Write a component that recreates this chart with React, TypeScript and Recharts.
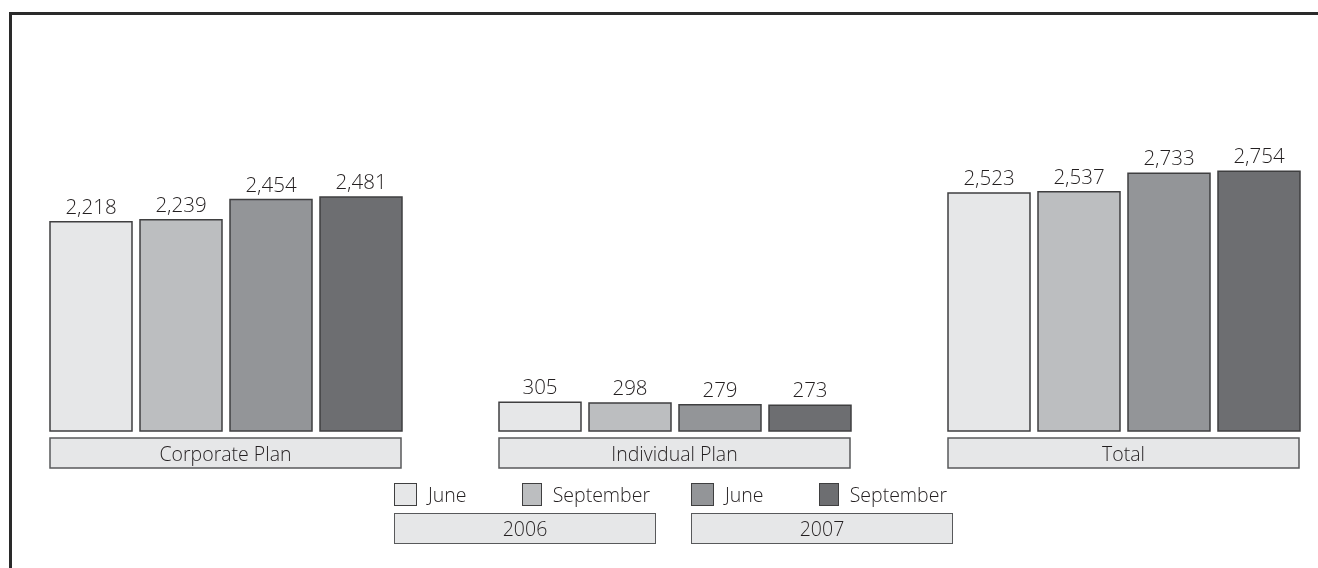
import React from 'react';
import { BarChart, Bar, XAxis, YAxis, LabelList, Legend } from 'recharts';

const categories = ['Corporate Plan', 'Individual Plan', 'Total'];
const june2006 = [2218, 305, 2523];
const september2006 = [2239, 298, 2537];
const june2007 = [2454, 279, 2733];
const september2007 = [2481, 273, 2754];

const seriesKeys = ['june2006', 'september2006', 'june2007', 'september2007'];
const seriesMonths = ['June', 'September', 'June', 'September'];
const years = ['2006', '2007'];
const valueDomain = [0, 3000];

const colors = ['#e6e7e8', '#bcbec0', '#939598', '#6d6e71'];
const FONT = '"Open Sans", "Noto Sans", sans-serif';
const WEIGHT = 300;
const TEXT = '#231f20';
const EDGE = '#3f3f40';
const BOX_EDGE = '#58595b';

const data = categories.map((category, i) => ({
  category,
  june2006: june2006[i],
  september2006: september2006[i],
  june2007: june2007[i],
  september2007: september2007[i],
}));

const fmt = (v: any) => Number(v).toLocaleString('en-US');

const GROUP_W = 351;

const CategoryTick = (props: any) => {
  const { x, y, payload } = props;
  return (
    <g>
      <rect x={x - GROUP_W / 2} y={y + 7} width={GROUP_W} height={30} fill="#e6e7e8" stroke={BOX_EDGE} strokeWidth={1.5} />
      <text x={x} y={y + 22} textAnchor="middle" dominantBaseline="central" fontSize={19.5} fontWeight={WEIGHT} fill={TEXT} fontFamily={FONT}>
        {payload.value}
      </text>
    </g>
  );
};

const renderLegend = () => (
  <div style={{ width: 562, height: 62, display: 'flex', gap: 35, fontSize: 19.5, fontWeight: WEIGHT, color: TEXT, fontFamily: FONT, lineHeight: 1 }}>
    {years.map((yr, yi) => (
      <div key={yr} style={{ width: 262 }}>
        <div style={{ display: 'flex', height: 23 }}>
          {[0, 1].map((j) => {
            const s = yi * 2 + j;
            return (
              <div key={j} style={{ width: 128, display: 'flex', alignItems: 'center' }}>
                <span style={{ display: 'inline-block', width: 23, height: 23, boxSizing: 'border-box', background: colors[s], border: `1.5px solid ${EDGE}` }} />
                <span style={{ marginLeft: 11 }}>{seriesMonths[s]}</span>
              </div>
            );
          })}
        </div>
        <div style={{ marginTop: 7, height: 31, boxSizing: 'border-box', background: '#e6e7e8', border: `1.5px solid ${BOX_EDGE}`, display: 'flex', alignItems: 'center', justifyContent: 'center' }}>
          {yr}
        </div>
      </div>
    ))}
  </div>
);

export default function App() {
  return (
    <>
      <style>{`html, body { overflow: hidden; }`}</style>
      <div style={{ position: 'fixed', left: 0, top: 0, width: 1318, height: 568, overflow: 'hidden', fontFamily: FONT }}>
        <BarChart
          width={1348}
          height={568}
          data={data}
          margin={{ top: 148, right: 0, left: 1, bottom: 97 }}
          barCategoryGap={49}
          barGap={8}
        >
          <XAxis dataKey="category" axisLine={false} tickLine={false} tickSize={0} tickMargin={0} height={40} interval={0} tick={<CategoryTick />} />
          <YAxis hide domain={valueDomain} />
          {seriesKeys.map((k, i) => (
            <Bar key={k} dataKey={k} fill={colors[i]} stroke={EDGE} strokeWidth={1.5} isAnimationActive={false}>
              <LabelList dataKey={k} position="top" offset={8} formatter={fmt} fill={TEXT} fontSize={20.5} fontWeight={WEIGHT} fontFamily={FONT} />
            </Bar>
          ))}
          <Legend layout="vertical" align="center" verticalAlign="middle" wrapperStyle={{ top: 483, left: 394, width: 562, height: 62 }} content={renderLegend} />
        </BarChart>
        <div style={{ position: 'absolute', left: 9, top: 12, width: 1400, height: 700, borderTop: '3px solid #2a2a2a', borderLeft: '3px solid #2a2a2a', pointerEvents: 'none' }} />
      </div>
    </>
  );
}
